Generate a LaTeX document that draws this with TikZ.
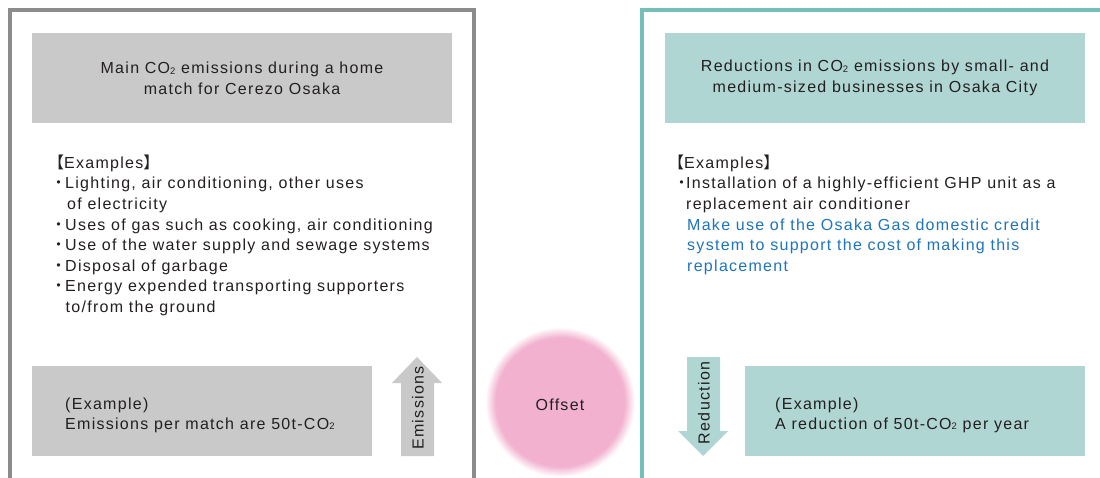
\documentclass[tikz,border=0pt]{standalone}
\usepackage{fontspec}
\setmainfont{Liberation Sans}[LetterSpace=8]
\newfontfamily\cjk{Noto Sans CJK JP}
\newcommand\COt{CO\raisebox{-0.05em}{\fontsize{9.5}{10}\selectfont 2}}
\newcommand\lbul{\makebox[17pt][l]{\hspace*{10.5pt}\makebox[0pt][c]{\cjk ・}}}
\newcommand\rbul{\makebox[18pt][l]{\hspace*{13.5pt}\makebox[0pt][c]{\cjk ・}}}
\definecolor{grayframe}{HTML}{8C8C8C}
\definecolor{grayfill}{HTML}{C8C9C8}
\definecolor{tealframe}{HTML}{74BFB7}
\definecolor{tealfill}{HTML}{AFD6D2}
\definecolor{pinkfill}{HTML}{F2B2CF}
\definecolor{bluetext}{HTML}{1F74BE}
\definecolor{inktext}{HTML}{231F20}
\pgfdeclareradialshading{offsetshade}{\pgfpoint{0bp}{0bp}}{color(0bp)=(pinkfill); color(21.5bp)=(pinkfill); color(25bp)=(white); color(50bp)=(white)}
\begin{document}
\begin{tikzpicture}[x=1pt,y=-1pt,
  every node/.style={text=inktext, font=\fontsize{16}{20.6}\selectfont},
  hdrbox/.style={minimum width=420pt, minimum height=90pt, inner sep=0pt, align=center},
  exbox/.style={minimum width=340pt, minimum height=90pt, inner sep=0pt},
  listtext/.style={anchor=north west, inner sep=0pt, align=left},
  arrowlabel/.style={rotate=90, inner sep=0pt}]
\useasboundingbox (0,0) rectangle (1100,477);
\fill[white] (0,0) rectangle (1100,477);
% frames
\draw[grayframe, line width=3.5pt] (10,10) rectangle (474,492);
\draw[tealframe, line width=3.5pt] (642,10) rectangle (1112,492);
% headers
\node[hdrbox, fill=grayfill] (lh) at (242,78) {Main \COt{} emissions during a home\\match for Cerezo Osaka};
\node[hdrbox, fill=tealfill] (rh) at (875,78) {Reductions in \COt{} emissions by small- and\\medium-sized businesses in Osaka City};
% lists
\node[listtext] (ll) at (48,154.6) {{\cjk 【}Examples{\cjk 】}\\
\lbul Lighting, air conditioning, other uses\\
\hspace*{19pt}of electricity\\
\lbul Uses of gas such as cooking, air conditioning\\
\lbul Use of the water supply and sewage systems\\
\lbul Disposal of garbage\\
\lbul Energy expended transporting supporters\\
\hspace*{17.5pt}to/from the ground};
\node[listtext] (rl) at (668,154.6) {{\cjk 【}Examples{\cjk 】}\\
\rbul Installation of a highly-efficient GHP unit as a\\
\hspace*{18pt}replacement air conditioner\\
\hspace*{19pt}\textcolor{bluetext}{Make use of the Osaka Gas domestic credit}\\
\hspace*{19pt}\textcolor{bluetext}{system to support the cost of making this}\\
\hspace*{19pt}\textcolor{bluetext}{replacement}};
% example boxes
\node[exbox, fill=grayfill] (lb) at (202,411) {};
\node[anchor=west, inner sep=0pt, align=left, font=\fontsize{16}{20}\selectfont] (lbt) at (65,415) {(Example)\\Emissions per match are 50t-\COt};
\node[exbox, fill=tealfill] (rb) at (915,411) {};
\node[anchor=west, inner sep=0pt, align=left, font=\fontsize{16}{20}\selectfont] (rbt) at (775,415) {(Example)\\A reduction of 50t-\COt{} per year};
% arrows
\fill[grayfill] (401,456) -- (401,383) -- (392,383) -- (417,357) -- (442,383) -- (434,383) -- (434,456) -- cycle;
\node[arrowlabel] (emi) at (418,408) {Emissions};
\fill[tealfill] (687,357) -- (720,357) -- (720,431) -- (728,431) -- (703,456) -- (678,431) -- (687,431) -- cycle;
\node[arrowlabel] (red) at (704,403) {Reduction};
% offset
\shade[shading=offsetshade] (560,402) circle (75);
\node (off) at (560,405) {Offset};
\end{tikzpicture}
\end{document}
